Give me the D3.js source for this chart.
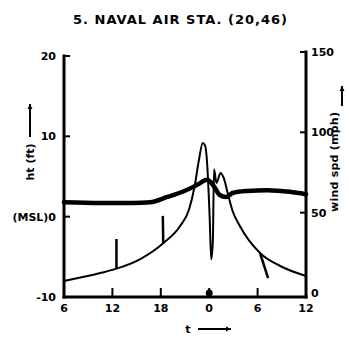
<!DOCTYPE html>
<html lang="en">
<head>
<meta charset="UTF-8">
<title>5. Naval Air Sta. (20,46)</title>
<script src="https://d3js.org/d3.v7.min.js"></script>
<style>
  body { margin: 0; background: #fff; }
  svg { display: block; }
  text { font-family: "DejaVu Sans", sans-serif; font-weight: bold; fill: #000; }
</style>
</head>
<body>
<svg id="chart" width="349" height="337"></svg>
<script>
// time axis: hours from the first "6" tick
const timeTicks = [0, 6, 12, 18, 24, 30];
const timeLabels = ["6", "12", "18", "0", "6", "12"];

// left axis: height (ft)
const htTicks = [20, 10, 0, -10];
const htLabels = ["20", "10", "(MSL)0", "-10"];

// right axis: wind speed (mph)
const windTicks = [150, 100, 50, 0];

// surge height (ft), thick curve
const htTime = [0, 4.5, 8.6, 10.7, 12.8, 14.7, 16.2, 16.9, 17.7, 18.2, 18.7, 19.3, 20.1, 20.9, 22.7, 25.2, 28, 30];
const htVal  = [1.8, 1.7, 1.7, 1.8, 2.45, 3.1, 3.8, 4.2, 4.6, 4.3, 3.6, 2.7, 2.45, 2.95, 3.2, 3.3, 3.1, 2.8];

// wind speed (mph), thin curve
const windTime = [0, 4.5, 6.4, 9.4, 12.3, 14.4, 15.5, 16.2, 16.7, 17.2, 17.5, 17.8, 18.05, 18.25, 18.45, 18.6, 18.9, 19.4, 19.8, 20.3, 20.9, 21.8, 24.3, 26.8, 30];
const windVal  = [7.5, 12.4, 15, 21, 31, 41.7, 52, 66.6, 82, 93.4, 91.5, 76, 48, 21, 32, 77, 68.5, 74.7, 71.6, 62, 51, 41.7, 24.9, 16.8, 10.6];

// short observation strokes on the wind curve [t0, v0, t1, v1]
const strokes = [
  [6.5, 15, 6.5, 33.6],
  [12.3, 31, 12.25, 48],
  [24.3, 24.9, 25.3, 9.3]
];

const svg = d3.select("#chart");

const x = d3.scaleLinear().domain([0, 30]).range([64, 306]);
const yHt = d3.scaleLinear().domain([-10, 20]).range([297, 56]);
const yWind = d3.scaleLinear().domain([0, 150]).range([293, 52]);

// title
svg.append("text")
  .attr("x", 180).attr("y", 24)
  .attr("text-anchor", "middle")
  .attr("font-size", 13)
  .attr("textLength", 214)
  .text("5. NAVAL AIR STA. (20,46)");

// axes frame
const frame = svg.append("g")
  .attr("stroke", "#000").attr("stroke-width", 3).attr("fill", "none")
  .attr("stroke-linecap", "square");
frame.append("line").attr("x1", x(0)).attr("x2", x(0)).attr("y1", yHt(20)).attr("y2", yHt(-10));
frame.append("line").attr("x1", x(0)).attr("x2", x(30)).attr("y1", yHt(-10)).attr("y2", yHt(-10));
frame.append("line").attr("x1", x(30)).attr("x2", x(30)).attr("y1", yWind(150)).attr("y2", yHt(-10));

// left ticks (inward)
htTicks.filter(d => d > -10).forEach(d => {
  frame.append("line").attr("stroke-width", 2)
    .attr("x1", x(0)).attr("x2", x(0) + 5).attr("y1", yHt(d)).attr("y2", yHt(d));
});
svg.selectAll(".htlab").data(htTicks).join("text")
  .attr("class", "htlab")
  .attr("x", 56).attr("y", (d) => yHt(d) + 4)
  .attr("text-anchor", "end")
  .attr("font-size", 11)
  .text((d, i) => htLabels[i]);

// right ticks (inward)
windTicks.filter(d => d > 0).forEach(d => {
  frame.append("line").attr("stroke-width", 2)
    .attr("x1", x(30)).attr("x2", x(30) - 5).attr("y1", yWind(d)).attr("y2", yWind(d));
});
svg.selectAll(".wlab").data(windTicks).join("text")
  .attr("class", "wlab")
  .attr("x", 311).attr("y", d => yWind(d) + 4)
  .attr("font-size", 11)
  .text(d => d);

// bottom ticks
timeTicks.slice(1, -1).forEach(t => {
  frame.append("line").attr("stroke-width", 2)
    .attr("x1", x(t)).attr("x2", x(t)).attr("y1", yHt(-10)).attr("y2", yHt(-10) - 8);
});
svg.append("circle").attr("cx", x(18)).attr("cy", yHt(-10) - 4).attr("r", 3.5).attr("fill", "#000");
svg.selectAll(".tlab").data(timeTicks).join("text")
  .attr("class", "tlab")
  .attr("x", d => x(d)).attr("y", 312)
  .attr("text-anchor", "middle")
  .attr("font-size", 11)
  .text((d, i) => timeLabels[i]);

// axis titles with arrows
function arrow(x1, y1, x2, y2) {
  const a = Math.atan2(y2 - y1, x2 - x1);
  svg.append("line").attr("x1", x1).attr("y1", y1).attr("x2", x2).attr("y2", y2)
    .attr("stroke", "#000").attr("stroke-width", 2);
  const s = 5;
  svg.append("path")
    .attr("d", `M${x2},${y2} L${x2 - s * Math.cos(a) + 2.5 * Math.sin(a)},${y2 - s * Math.sin(a) - 2.5 * Math.cos(a)} L${x2 - s * Math.cos(a) - 2.5 * Math.sin(a)},${y2 - s * Math.sin(a) + 2.5 * Math.cos(a)} Z`)
    .attr("fill", "#000");
}

svg.append("text")
  .attr("transform", "translate(34,162) rotate(-90)")
  .attr("text-anchor", "middle")
  .attr("font-size", 11)
  .text("ht (ft)");
arrow(30, 137, 30, 104);

svg.append("text")
  .attr("transform", "translate(338,162) rotate(-90)")
  .attr("text-anchor", "middle")
  .attr("font-size", 11)
  .attr("textLength", 100)
  .text("wind spd (mph)");
arrow(342, 106, 342, 86);

svg.append("text")
  .attr("x", 188).attr("y", 333)
  .attr("text-anchor", "middle")
  .attr("font-size", 11)
  .text("t");
arrow(198, 329, 231, 329);

// curves
const htLine = d3.line().x(d => x(d[0])).y(d => yHt(d[1])).curve(d3.curveMonotoneX);
svg.append("path")
  .datum(d3.zip(htTime, htVal))
  .attr("d", htLine)
  .attr("fill", "none").attr("stroke", "#000").attr("stroke-width", 4.5)
  .attr("stroke-linecap", "round");

const windLine = d3.line().x(d => x(d[0])).y(d => yWind(d[1])).curve(d3.curveMonotoneX);
svg.append("path")
  .datum(d3.zip(windTime, windVal))
  .attr("d", windLine)
  .attr("fill", "none").attr("stroke", "#000").attr("stroke-width", 2)
  .attr("stroke-linejoin", "round");

svg.selectAll(".stroke").data(strokes).join("line")
  .attr("class", "stroke")
  .attr("x1", d => x(d[0])).attr("y1", d => yWind(d[1]))
  .attr("x2", d => x(d[2])).attr("y2", d => yWind(d[3]))
  .attr("stroke", "#000").attr("stroke-width", 2.5);
</script>
</body>
</html>
